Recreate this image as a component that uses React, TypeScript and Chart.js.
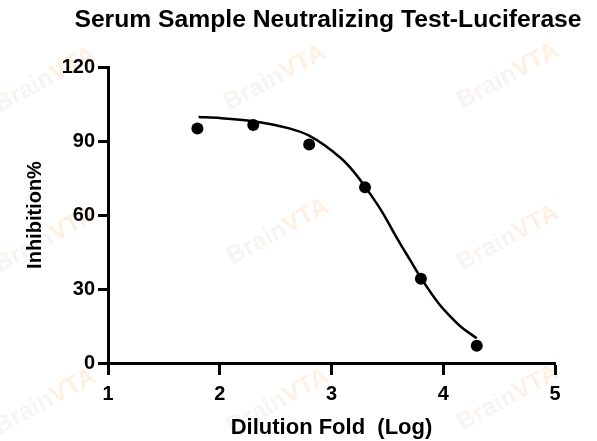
import React, { useEffect, useRef } from "react";
import { Chart, registerables } from "chart.js";
Chart.register(...registerables);

const chartTitle = "Serum Sample Neutralizing Test-Luciferase";
const xTitle = "Dilution Fold  (Log)";
const yTitle = "Inhibition%";

// measured points
const dilutionLog = [1.8, 2.3, 2.8, 3.3, 3.8, 4.3];
const inhibition = [95.1, 96.5, 88.6, 71.2, 34.2, 7.0];

// fitted curve
const fitX = [1.81, 2.0, 2.3, 2.63, 2.8, 3.08, 3.2, 3.3, 3.45, 3.55, 3.62, 3.7, 3.8, 3.97, 4.05, 4.15, 4.3];
const fitY = [99.7, 99.3, 98.0, 95.0, 92.2, 83.2, 77.5, 71.5, 61.5, 53.5, 48.0, 42.0, 34.5, 23.5, 19.5, 15.0, 10.0];

const xTicks = [1, 2, 3, 4, 5];
const yTicks = [0, 30, 60, 90, 120];

const FONT = "'Liberation Sans', Arial, sans-serif";

const watermark = {
  id: "watermark",
  beforeDraw(chart: any) {
    const ctx = chart.ctx;
    const spots = [
      [45, 80], [275, 78], [508, 76],
      [45, 240], [278, 232], [508, 238],
      [45, 402], [278, 402], [508, 398],
    ];
    ctx.save();
    ctx.font = `bold 25px ${FONT}`;
    ctx.textBaseline = "middle";
    for (const [x, y] of spots) {
      ctx.save();
      ctx.translate(x, y);
      ctx.rotate(-0.5);
      const w1 = ctx.measureText("Brain").width;
      const w2 = ctx.measureText("VTA").width;
      const start = -(w1 + w2) / 2;
      ctx.textAlign = "left";
      ctx.fillStyle = "rgba(225,215,205,0.28)";
      ctx.fillText("Brain", start, 0);
      ctx.fillStyle = "rgba(250,200,150,0.28)";
      ctx.fillText("VTA", start + w1, 0);
      ctx.restore();
    }
    ctx.restore();
  },
};

// title drawn as canvas text, centred above the plot as in the reference
const titlePlugin = {
  id: "wideTitle",
  afterDraw(chart: any) {
    const ctx = chart.ctx;
    ctx.save();
    ctx.font = `bold 24.7px ${FONT}`;
    ctx.fillStyle = "#000";
    ctx.textAlign = "center";
    ctx.textBaseline = "alphabetic";
    ctx.fillText(chartTitle, 328, 27);
    ctx.restore();
  },
};

export default function App() {
  const ref = useRef<HTMLCanvasElement | null>(null);
  useEffect(() => {
    if (!ref.current) return;
    const chart = new Chart(ref.current, {
      type: "scatter",
      data: {
        datasets: [
          {
            type: "line",
            label: "fit",
            data: fitX.map((x, i) => ({ x, y: fitY[i] })),
            borderColor: "#000",
            borderWidth: 2.5,
            pointRadius: 0,
            cubicInterpolationMode: "monotone",
            fill: false,
          } as any,
          {
            label: "data",
            data: dilutionLog.map((x, i) => ({ x, y: inhibition[i] })),
            backgroundColor: "#000",
            borderColor: "#000",
            pointRadius: 6,
            pointBorderWidth: 0,
          },
        ],
      },
      options: {
        responsive: false,
        animation: false,
        devicePixelRatio: 1,
        layout: { padding: { left: 0, right: 42, top: 67, bottom: 0 } },
        plugins: {
          legend: { display: false },
          tooltip: { enabled: false },
          title: { display: false },
        },
        scales: {
          x: {
            type: "linear",
            min: 1,
            max: 5,
            afterFit: (s: any) => { s.height = 78; },
            afterBuildTicks: (s: any) => { s.ticks = xTicks.map((v) => ({ value: v })); },
            border: { display: true, width: 3, color: "#000" },
            grid: { drawOnChartArea: false, drawTicks: true, tickLength: 12, tickWidth: 3, tickColor: "#000" },
            ticks: { color: "#000", padding: 7, font: { family: FONT, size: 20, weight: "bold" } },
            title: {
              display: true,
              text: xTitle,
              color: "#000",
              font: { family: FONT, size: 22, weight: "bold" },
              padding: { top: 0, bottom: 0 },
            },
          },
          y: {
            type: "linear",
            min: 0,
            max: 120,
            afterFit: (s: any) => { s.width = 108; },
            afterBuildTicks: (s: any) => { s.ticks = yTicks.map((v) => ({ value: v })); },
            border: { display: true, width: 3, color: "#000" },
            grid: { drawOnChartArea: false, drawTicks: true, tickLength: 10, tickWidth: 3, tickColor: "#000" },
            ticks: { color: "#000", padding: 3, font: { family: FONT, size: 20, weight: "bold" } },
            title: {
              display: true,
              text: yTitle,
              color: "#000",
              font: { family: FONT, size: 20, weight: "bold" },
              padding: { top: 23, bottom: 0 },
            },
          },
        },
      },
      plugins: [watermark, titlePlugin],
    });
    return () => chart.destroy();
  }, []);
  return (
    <div style={{ position: "fixed", left: 0, top: 0, width: 597, height: 441, background: "#fff" }}>
      <canvas ref={ref} width={597} height={441} />
    </div>
  );
}
